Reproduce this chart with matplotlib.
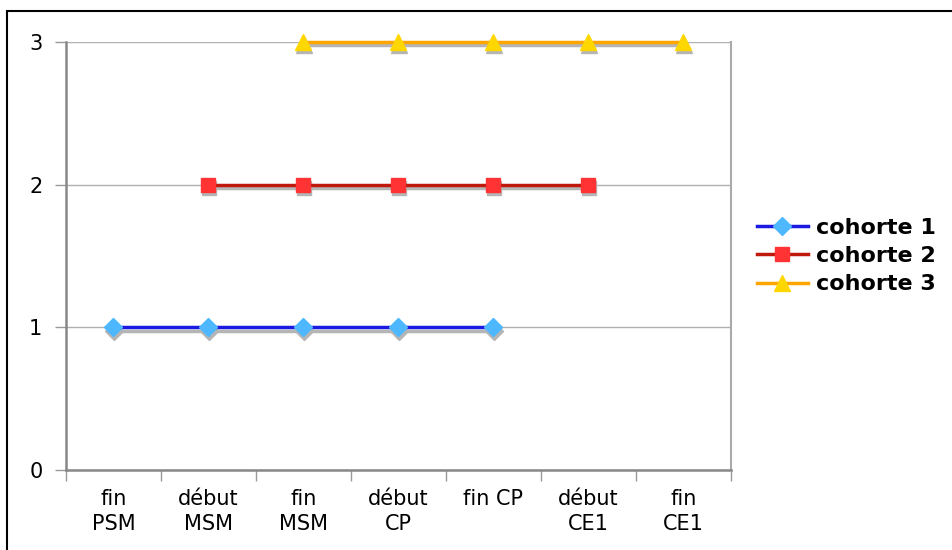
import numpy as np
import matplotlib.pyplot as plt
import matplotlib.transforms as mtransforms
from matplotlib.patches import Rectangle

categories = ["fin\nPSM", "début\nMSM", "fin\nMSM", "début\nCP", "fin CP", "début\nCE1", "fin\nCE1"]
nan = np.nan
cohorte_1 = [1, 1, 1, 1, 1, nan, nan]
cohorte_2 = [nan, 2, 2, 2, 2, 2, nan]
cohorte_3 = [nan, nan, 3, 3, 3, 3, 3]

series = [
    ("cohorte 1", cohorte_1, "#1a1ae0", "#4db8ff", "D", 9),
    ("cohorte 2", cohorte_2, "#c0180c", "#ff3333", "s", 10),
    ("cohorte 3", cohorte_3, "#ffa500", "#ffd700", "^", 11),
]

fig = plt.figure(figsize=(9.52, 5.5), dpi=100)
ax = fig.add_axes([66 / 952, 1 - 470 / 550, (731 - 66) / 952, (470 - 42) / 550])

x = np.arange(len(categories))
# ombre grise décalée vers le bas
shadow_tr = mtransforms.offset_copy(ax.transData, fig=fig, x=0.5, y=-2.5, units="points")
for label, vals, lc, mc, mk, ms in series:
    ax.plot(x, vals, color="#b5b5b5", lw=2.5, marker=mk, markersize=ms,
            markerfacecolor="#b5b5b5", markeredgecolor="#b5b5b5",
            transform=shadow_tr, clip_on=False, zorder=2)
    ax.plot(x, vals, color=lc, lw=2.5, marker=mk, markersize=ms,
            markerfacecolor=mc, markeredgecolor=mc, label=label,
            clip_on=False, zorder=3)

ax.set_xlim(-0.5, len(categories) - 0.5)
ax.set_ylim(0, 3)
ax.set_yticks([0, 1, 2, 3])
ax.set_xticks(x)
ax.set_xticklabels(categories, fontsize=15, linespacing=1.3)
ax.set_xticks(np.arange(-0.5, len(categories)), minor=True)
ax.tick_params(axis="x", which="major", length=0, pad=14)
ax.tick_params(axis="x", which="minor", length=8, color="#999999", width=1)
ax.tick_params(axis="y", length=8, color="#999999", width=1, labelsize=15, pad=9)
ax.grid(axis="y", color="#b0b0b0", lw=1)
ax.set_axisbelow(True)

for side in ["left", "bottom"]:
    ax.spines[side].set_color("#888888")
    ax.spines[side].set_linewidth(1.8)
ax.spines["right"].set_color("#aaaaaa")
ax.spines["right"].set_linewidth(1.5)
ax.spines["top"].set_visible(False)

fig.legend(loc="center left", bbox_to_anchor=(748 / 952, 1 - 256 / 550),
           frameon=False, handlelength=2.3, labelspacing=0.38, handletextpad=0.35,
           borderaxespad=0, prop={"weight": "bold", "size": 16})

fig.patches.append(Rectangle((7 / 952, -0.1), 1.2, 1.1 - 11 / 550,
                             transform=fig.transFigure, fill=False,
                             edgecolor="black", lw=1.5))

fig.savefig("out.png", dpi=100)
